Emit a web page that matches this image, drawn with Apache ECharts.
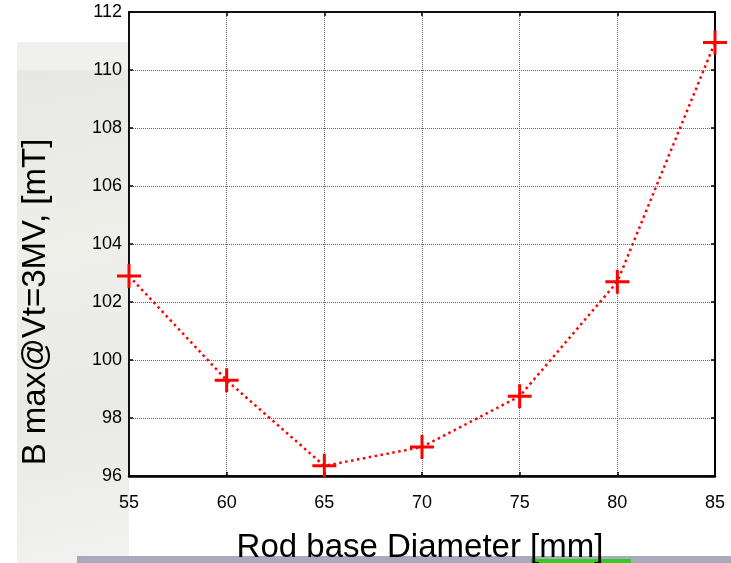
<!DOCTYPE html>
<html>
<head>
<meta charset="utf-8">
<title>B max vs Rod base Diameter</title>
<script src="https://cdn.jsdelivr.net/npm/echarts@6/dist/echarts.min.js"></script>
<style>
  html, body { margin: 0; padding: 0; background: #fff; }
  #main { width: 731px; height: 563px; }
</style>
</head>
<body>
<div id="main"></div>
<script>
// data
var diameters = [55, 60, 65, 70, 75, 80, 85];
var bMax = [102.9, 99.3, 96.35, 97.0, 98.75, 102.7, 110.95];
var yTicks = [96, 98, 100, 102, 104, 106, 108, 110, 112];
var xTicks = [55, 60, 65, 70, 75, 80, 85];
var xTitle = 'Rod base Diameter [mm]';
var yTitle = 'B max@Vt=3MV, [mT]';

var chart = echarts.init(document.getElementById('main'));
var font = 'Liberation Sans, Arial, sans-serif';
var plus = 'path://M-1.5,-12H1.5V-1.5H12V1.5H1.5V12H-1.5V1.5H-12V-1.5H-1.5Z';

var gridLine = { show: true, lineStyle: { color: '#666', type: [1, 1], width: 1 } };

chart.setOption({
    backgroundColor: '#fff',
    animation: false,
    graphic: [
        // faint background picture on the left, and the band at the bottom
        { type: 'rect', shape: { x: 17, y: 42, width: 112, height: 521 }, z: -10,
          style: { fill: new echarts.graphic.LinearGradient(0, 0, 1, 1, [
              { offset: 0, color: '#e6e6e2' }, { offset: 0.4, color: '#efefea' },
              { offset: 0.7, color: '#e9e9e6' }, { offset: 1, color: '#f2f2f0' }]) } },
        { type: 'rect', shape: { x: 17, y: 42, width: 112, height: 28 }, style: { fill: '#f0f0ee' }, z: -9 },
        { type: 'rect', shape: { x: 77, y: 556, width: 654, height: 7 }, style: { fill: '#a8abbb' }, z: -7 },
        { type: 'rect', shape: { x: 531, y: 559, width: 100, height: 4 }, style: { fill: '#33cc22' }, z: -6 },
        { type: 'text', x: 420, y: 548, z: 10,
          style: { text: xTitle, font: '33px ' + font, fill: '#000', align: 'center', verticalAlign: 'middle' } },
        { type: 'text', x: 36, y: 302, rotation: Math.PI / 2, z: 10,
          style: { text: yTitle, font: '33px ' + font, fill: '#000', align: 'center', verticalAlign: 'middle' } }
    ],
    grid: {
        left: 129, top: 12, width: 586, height: 464,
        show: true, borderColor: '#000', borderWidth: 1.5, backgroundColor: '#fff'
    },
    xAxis: [{
        type: 'value', min: 55, max: 85, interval: 5,
        axisLine: { lineStyle: { color: '#000', width: 2.5 } },
        axisTick: { inside: true, length: 4, lineStyle: { color: '#000', width: 1.5 } },
        axisLabel: { fontFamily: font, fontSize: 18, color: '#000', margin: 18,
            customValues: xTicks },
        splitLine: gridLine
    }, {
        type: 'value', position: 'top', min: 55, max: 85, interval: 5,
        axisLine: { lineStyle: { color: '#000', width: 1.5 } },
        axisTick: { inside: true, length: 4, lineStyle: { color: '#000', width: 1.5 } },
        axisLabel: { show: false }, splitLine: { show: false }
    }],
    yAxis: [{
        type: 'value', min: 96, max: 112, interval: 2,
        axisLine: { show: true, lineStyle: { color: '#000', width: 1.5 } },
        axisTick: { show: true, inside: true, length: 4, lineStyle: { color: '#000', width: 1.5 } },
        axisLabel: { fontFamily: font, fontSize: 18, color: '#000', margin: 7,
            padding: [10, 0, 0, 0], customValues: yTicks },
        splitLine: gridLine
    }, {
        type: 'value', position: 'right', min: 96, max: 112, interval: 2,
        axisLine: { show: true, lineStyle: { color: '#000', width: 2 } },
        axisTick: { show: true, inside: true, length: 4, lineStyle: { color: '#000', width: 1.5 } },
        axisLabel: { show: false }, splitLine: { show: false }
    }],
    series: [{
        type: 'line',
        data: diameters.map(function (d, i) { return [d, bMax[i]]; }),
        symbol: plus, symbolSize: 24,
        itemStyle: { color: '#ff0000' },
        lineStyle: { color: '#ff0000', width: 2.5, type: [2.5, 3.5] },
        clip: false, z: 5
    }]
});
</script>
</body>
</html>
